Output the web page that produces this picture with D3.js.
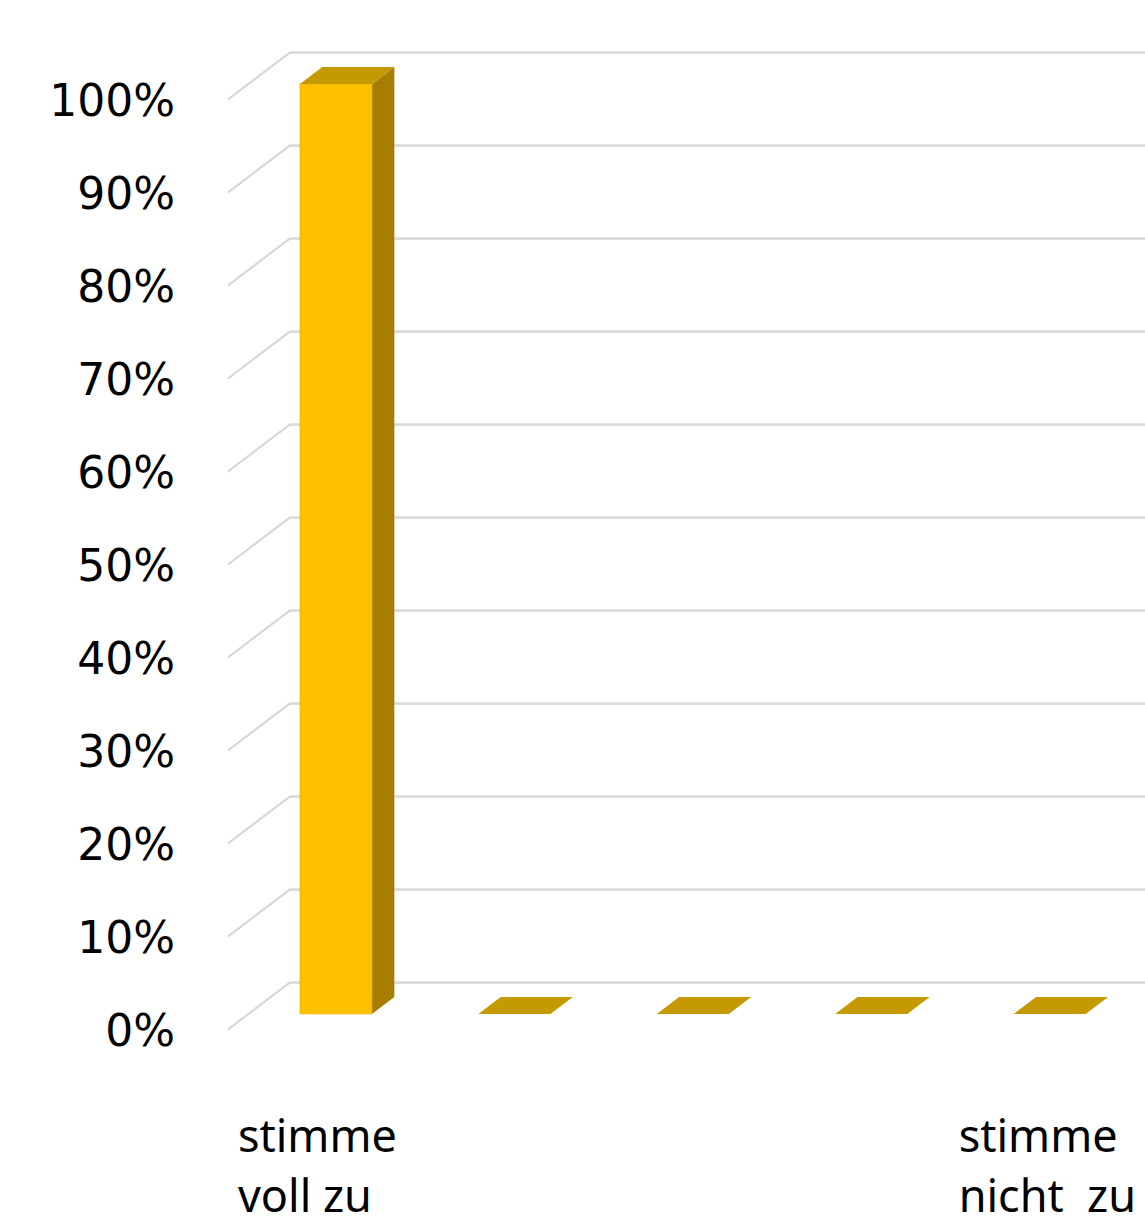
<!DOCTYPE html>
<html>
<head>
    <meta charset="utf-8">
    <title>Zustimmung</title>
    <script src="https://d3js.org/d3.v7.min.js"></script>
    <style>
        * { margin: 0; padding: 0; }
        body { background: #fff; overflow: hidden; }
        text { font-family: "Noto Sans", "Open Sans", sans-serif; fill: #000; }
        .tick { font-family: "DejaVu Sans", sans-serif; }
    </style>
</head>
<body>
<div id="chart"></div>
<script>
    // data
    const categories = ["c1", "c2", "c3", "c4", "c5"];
    const categoryLabels = [["stimme", "voll zu"], [], [], [], ["stimme", "nicht  zu"]];
    const values = [1.0, 0, 0, 0, 0];
    const ticks = [0, 0.1, 0.2, 0.3, 0.4, 0.5, 0.6, 0.7, 0.8, 0.9, 1.0];

    const width = 1145, height = 1216;
    // depth of the floor (back wall -> front edge)
    const depthX = -62, depthY = 47;
    // bar sits between these fractions of the depth
    const barBack = 0.32, barFront = 0.68;

    const svg = d3.select("#chart").append("svg")
        .attr("width", width)
        .attr("height", height);

    const y = d3.scaleLinear().domain([0, 1]).range([982, 52]);
    const x = d3.scaleBand().domain(categories)
        .range([290, 1180])
        .paddingInner(0.596)
        .paddingOuter(0.292);

    // gridlines on back wall + diagonal on left wall
    const grid = svg.append("g");
    ticks.forEach(t => {
        const yy = y(t);
        grid.append("path")
            .attr("d", `M${290 + depthX},${yy + depthY + 1}L290,${yy + 1}L${width + 10},${yy + 1}`)
            .attr("fill", "none")
            .attr("stroke", "#bdbdbd")
            .attr("stroke-width", 1);
        grid.append("path")
            .attr("d", `M${290 + depthX},${yy + depthY}L290,${yy}L${width + 10},${yy}`)
            .attr("fill", "none")
            .attr("stroke", "#dadada")
            .attr("stroke-width", 1.5);
    });

    // y tick labels
    svg.append("g").selectAll("text")
        .data(ticks)
        .join("text")
        .attr("class", "tick")
        .attr("x", 175)
        .attr("y", d => y(d) + depthY)
        .attr("dy", "0.38em")
        .attr("text-anchor", "end")
        .style("font-size", "44px")
        .text(d => d3.format(".0%")(d));

    // bars
    const bw = x.bandwidth();
    const bdx = depthX * barFront, bdy = depthY * barFront;   // front plane offset
    const kdx = depthX * barBack, kdy = depthY * barBack;     // back plane offset

    const bars = svg.append("g").selectAll("g")
        .data(categories.map((c, i) => ({ c, v: values[i] })))
        .join("g");

    bars.each(function (d) {
        const g = d3.select(this);
        const x0 = x(d.c);
        const yTop = y(d.v), yBot = y(0);
        const fl = x0 + bdx, fr = x0 + bw + bdx;
        const bl = x0 + kdx, br = x0 + bw + kdx;
        if (d.v > 0) {
            // side
            g.append("path")
                .attr("d", `M${fr},${yTop + bdy}L${br},${yTop + kdy}L${br},${yBot + kdy}L${fr},${yBot + bdy}Z`)
                .attr("fill", "#a67d00");
            // front
            g.append("rect")
                .attr("x", fl).attr("y", yTop + bdy)
                .attr("width", bw).attr("height", yBot - yTop)
                .attr("fill", "#ffc000")
                .attr("stroke", "#e6ad00").attr("stroke-width", 0.6);
        }
        // top
        g.append("path")
            .attr("d", `M${fl},${yTop + bdy}L${bl},${yTop + kdy}L${br},${yTop + kdy}L${fr},${yTop + bdy}Z`)
            .attr("fill", "#c49a00");
    });

    // category labels (left aligned under floor edge)
    const labels = svg.append("g");
    categories.forEach((c, i) => {
        const lx = x(c) + bdx + depthX + i * 1.75;
        const t = labels.append("text")
            .attr("x", lx)
            .attr("y", 1152)
            .style("font-size", "45px")
            .attr("xml:space", "preserve");
        categoryLabels[i].forEach((line, k) => {
            t.append("tspan")
                .attr("x", lx)
                .attr("dy", k === 0 ? 0 : 60)
                .text(line);
        });
    });
</script>
</body>
</html>
